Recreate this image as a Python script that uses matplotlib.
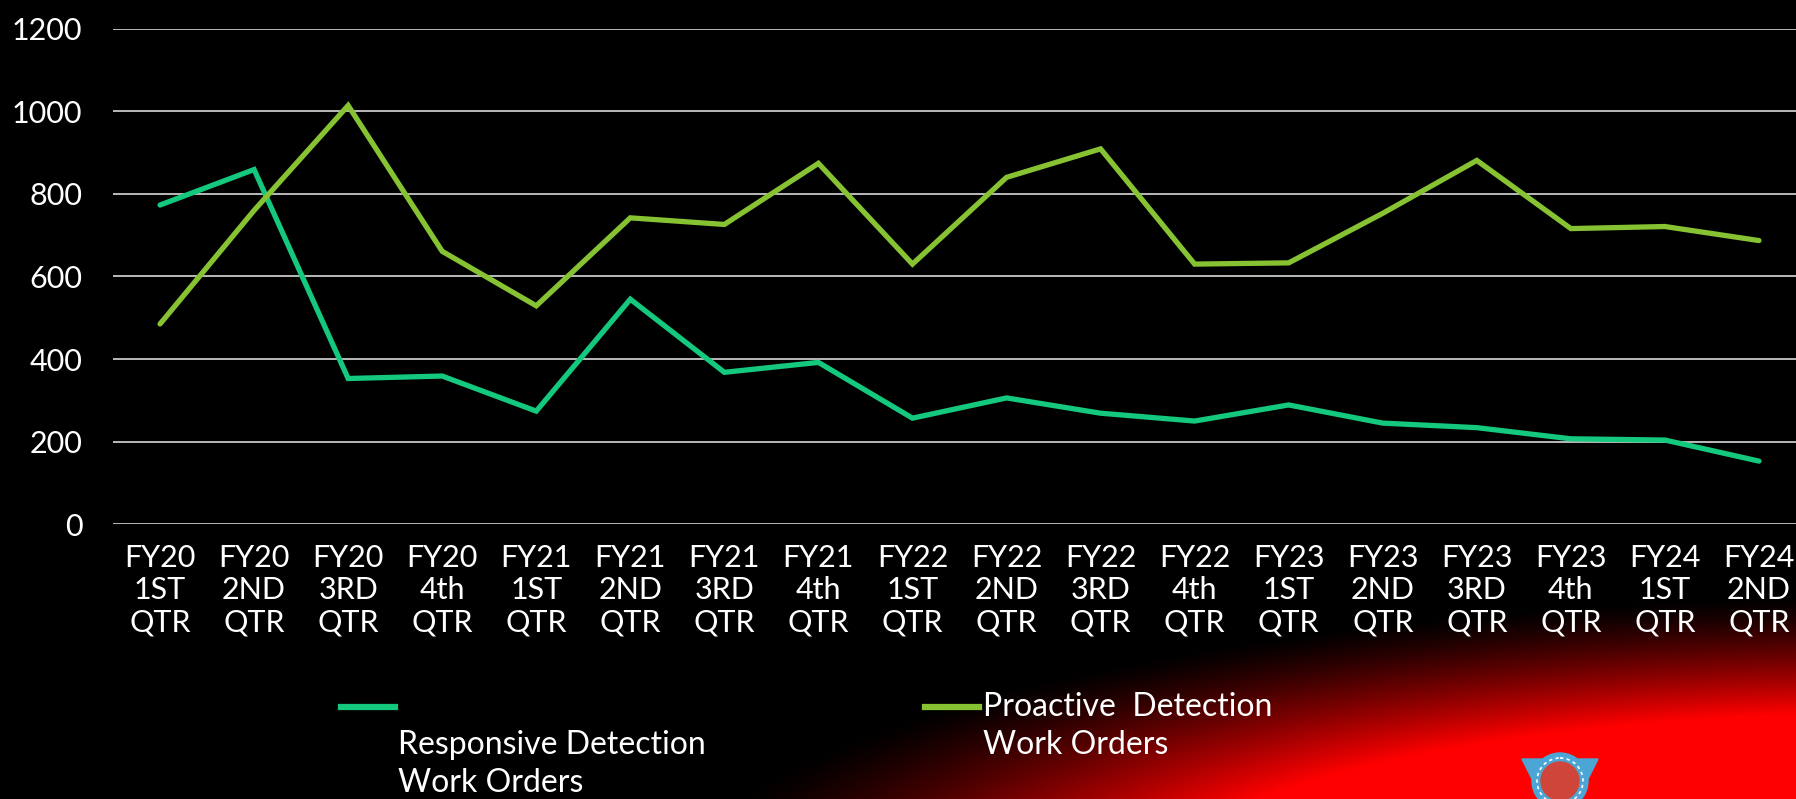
import numpy as np
import matplotlib
matplotlib.use("Agg")
import matplotlib.pyplot as plt
from matplotlib.lines import Line2D
from matplotlib.patches import Circle, Polygon

# quarters on the x axis
quarters = ["FY20\n1ST\nQTR", "FY20\n2ND\nQTR", "FY20\n3RD\nQTR", "FY20\n4th\nQTR",
            "FY21\n1ST\nQTR", "FY21\n2ND\nQTR", "FY21\n3RD\nQTR", "FY21\n4th\nQTR",
            "FY22\n1ST\nQTR", "FY22\n2ND\nQTR", "FY22\n3RD\nQTR", "FY22\n4th\nQTR",
            "FY23\n1ST\nQTR", "FY23\n2ND\nQTR", "FY23\n3RD\nQTR", "FY23\n4th\nQTR",
            "FY24\n1ST\nQTR", "FY24\n2ND\nQTR"]

# work order counts
responsive = [773, 859, 353, 359, 274, 545, 368, 392, 257, 306, 269, 250,
              289, 245, 234, 207, 204, 153]
proactive = [485, 760, 1014, 661, 529, 742, 726, 874, 630, 840, 909, 630,
             633, 753, 881, 716, 721, 687]

y_ticks = [0, 200, 400, 600, 800, 1000, 1200]

teal = "#14C87E"
lime = "#86C232"

plt.rcParams["font.family"] = ["Lato", "DejaVu Sans"]

W, H = 1796, 799
fig = plt.figure(figsize=(W / 100, H / 100), dpi=100)
fig.patch.set_facecolor("black")

# black background with a red glow in the lower right corner
bg = fig.add_axes([0, 0, 1, 1], zorder=-5)
xx, yy = np.meshgrid(np.arange(W), np.arange(H))
d = np.sqrt(((xx - 1900) / 1237.0) ** 2 + ((yy - 900) / 305.0) ** 2)
red = np.clip((1 - d) * 2.6, 0, 1) ** 1.3
img = np.zeros((H, W, 3))
img[..., 0] = red
bg.imshow(img, aspect="auto", extent=(0, W, H, 0))
bg.set_xlim(0, W)
bg.set_ylim(H, 0)
bg.axis("off")

# small emblem at the bottom
bg.add_patch(Polygon([(1522, 759), (1598, 759), (1578, 799), (1542, 799)],
                     closed=True, color="#4BA6D6", zorder=2))
bg.add_patch(Circle((1560, 781), 28, color="#4BA6D6", zorder=3))
bg.add_patch(Circle((1560, 781), 23, fill=False, ec="white", lw=1.2,
                    ls=(0, (2, 2)), zorder=4))
bg.add_patch(Circle((1560, 781), 19, color="#D0453A", zorder=5))

ax = fig.add_axes([113 / W, 0.3438, 1693 / W, 0.6203])
ax.set_facecolor("none")

x = np.arange(len(quarters))
ax.plot(x, responsive, color=teal, lw=3.8, solid_capstyle="round",
        solid_joinstyle="miter", zorder=3)
ax.plot(x, proactive, color=lime, lw=3.8, solid_capstyle="round",
        solid_joinstyle="miter", zorder=3)

ax.set_xlim(-0.5, len(quarters) - 0.5)
ax.set_ylim(0, 1200)
ax.set_yticks(y_ticks)
ax.set_xticks(x)
ax.set_xticklabels(quarters, linespacing=1.2)
ax.grid(axis="y", color="#D9D9D9", lw=1.2)
ax.set_axisbelow(True)
for s in ax.spines.values():
    s.set_visible(False)
ax.tick_params(axis="both", length=0, colors="white", labelsize=22)
ax.tick_params(axis="y", pad=22)
ax.tick_params(axis="x", pad=14)

# legend laid out as in the slide
def fy(py):
    return 1 - py / H

fig.add_artist(Line2D([341 / W, 395 / W], [fy(707), fy(707)], color=teal, lw=4.5,
                      transform=fig.transFigure))
fig.add_artist(Line2D([925 / W, 979 / W], [fy(707), fy(707)], color=lime, lw=4.5,
                      transform=fig.transFigure))
fig.text(398 / W, fy(745), "Responsive Detection", color="white", fontsize=23, va="center")
fig.text(398 / W, fy(783), "Work Orders", color="white", fontsize=23, va="center")
fig.text(983 / W, fy(707), "Proactive  Detection", color="white", fontsize=23, va="center")
fig.text(983 / W, fy(745), "Work Orders", color="white", fontsize=23, va="center")

fig.savefig("out.png", dpi=100, facecolor="black")
